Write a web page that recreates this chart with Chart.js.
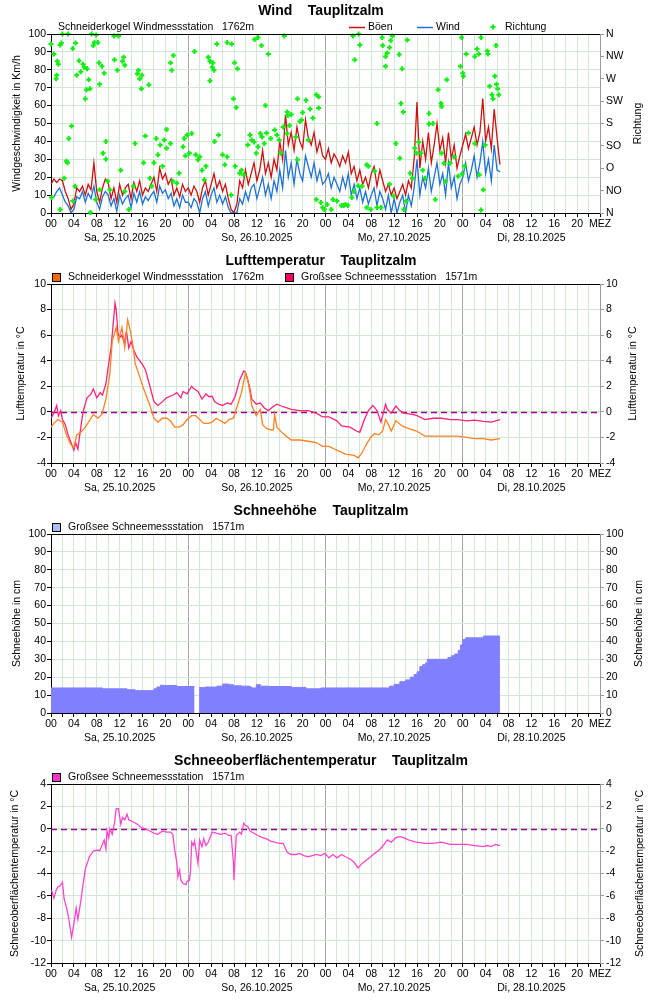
<!DOCTYPE html>
<html><head><meta charset="utf-8">
<script src="https://cdn.jsdelivr.net/npm/chart.js@4.4.1/dist/chart.umd.min.js"></script>
<style>
body{margin:0;background:#fff;width:650px;height:1000px;overflow:hidden;}
.panel{position:absolute;left:0;width:650px;height:250px;}
canvas{display:block;}
</style></head><body>
<div class="panel" style="top:0"><canvas id="c1" width="650" height="250"></canvas></div>
<div class="panel" style="top:250px"><canvas id="c2" width="650" height="250"></canvas></div>
<div class="panel" style="top:500px"><canvas id="c3" width="650" height="250"></canvas></div>
<div class="panel" style="top:750px"><canvas id="c4" width="650" height="250"></canvas></div>
<script>
// ---------------- DATA ----------------
const dayLabels = ['Sa, 25.10.2025','So, 26.10.2025','Mo, 27.10.2025','Di, 28.10.2025'];
const dirLabels = ['N','NO','O','SO','S','SW','W','NW','N'];

// wind: half-hourly from Sa 00:00
const windStartHour = 0, windStepHours = 0.5;
const gusts = [
 16,19,17,19,18,12,8,2,5,14, 12,15,10,16,13,28,12,6,14,19, 17,8,14,6,16,10,14,16,8,17, 12,18,10,14,12,16,20,12,25,19, 22,16,19,10,14,9,16,12,
 14,10,15,12,6,14,18,10,16,22, 14,18,12,16,8,2,0,5,18,14, 24,16,22,28,18,24,35,22,28,20, 30,24,40,30,55,38,45,35,48,40, 36,52,42,38,45,34,40,32,
 30,36,28,33,30,26,32,28,34,22, 26,18,24,16,20,14,22,26,15,24, 18,12,16,10,14,8,12,16,10,18, 14,30,62,25,40,30,45,28,38,50, 35,42,28,45,30,38,25,32,
 38,44,36,42,48,38,45,64,40,48, 36,58,42,27
];
const wind = [
 8,9,12,14,10,6,4,0,2,9, 8,12,6,11,8,15,6,2,9,12, 10,4,8,1,10,5,8,10,3,11, 6,12,5,9,7,10,12,6,15,11, 13,8,11,4,8,3,10,6,
 6,3,8,6,0,8,12,4,10,14, 6,10,5,9,3,0,0,0,8,5, 12,7,14,16,8,14,20,10,16,8, 18,12,24,14,35,20,28,16,30,22, 18,32,26,20,28,18,24,16,
 18,22,14,20,16,12,20,14,22,10, 16,8,14,6,12,5,10,14,4,12, 8,2,10,0,8,0,6,10,0,10, 4,14,30,10,20,14,25,12,20,28, 16,22,10,28,14,20,8,16,
 20,28,18,24,32,20,28,40,22,30, 18,38,24,23
];
const dirHours = [
 0,0.5,0.9,1.0,1.1,1.3,1.6,1.8,2,3,
 3.8,4.3,4.5,4.9,5.2,5.6,5.8,6,6.2,6.3,
 6.6,6.8,7.1,7.4,7.6,7.9,8.2,8.4,8.5,8.9,
 9.3,11,11.1,11.6,11.8,12.5,12.7,12.9,15.1,15.3,
 15.5,15.8,15.9,17.1,20.9,21.1,21.4,25.1,27.5,27.8,
 28.2,28.3,28.5,27.8,29,30.8,31.6,31.9,32.1,32.4,
 32.6,35.6,36.2,36.8,37.5,38,40.8,41.3,41.4,43.1,
 44.6,45.3,46.4,46.8,46.8,52.8,53.8,53.1,54,57.9,
 58,58.5,58.5,58.8,59.2,59.4,59.7,60.9,61.4,61.2,
 61.6,62.3,66.1,67.7,68.2,68.3,69.2,71.6,71.8,72,
 72.1,72.6,74.1,74.5,74.8,75.2,76.3,76.4,76.7,77.1,
 77.3,77.6,77.8,77.9,78.1,78.3,42,44,45.8,43.8,
 0.1,1.6,2.3,2.7,2.9,3.1,3.6,4.2,3.8,6.9,
 7.8,8.5,9.1,9.6,9.6,9.9,10.3,12.2,12.9,13.6,
 14.4,14.7,16.2,16.5,17.3,17.6,18,18.4,18.7,19.1,
 19.5,19.8,20.2,20.2,20.9,21.3,22,22.4,23.1,23.3,
 23.5,23.8,24.2,24.6,25.3,25.7,26,26.4,26.8,27.1,
 28.6,29.3,30,30.4,30.8,31.5,32.2,33,33.3,33.7,
 34.4,34.8,35.1,35.5,35.9,36.2,36.6,36.9,37.3,37.7,
 38.4,39.1,39.5,39.9,40.2,40.6,41.3,41.7,42.8,43.1,
 43.5,45,46.4,47.2,47.5,47.8,48.3,49,49.3,50,
 50.8,51.2,51.5,51.9,52.6,53,53.7,54.4,55.2,55.5,
 55.2,55.9,56.6,57,57,57.7,59.2,59.9,60.3,61,
 61.7,62.1,62.8,63.2,63.6,63.9,64.3,64.7,65,65.4,
 66.1,66.8,67.2,68.3,68.7,69,69.8,70.5,71.2,71.9,
 72.3,73,74.1,74.9,75.2,75.6,75.9
];
const dirDegrees = [
 340,320,270,277,305,299,338,342,360,360,
 331,342,277,306,284,299,293,230,248,290,
 268,250,360,337,343,358,343,302,259,295,
 281,356,308,287,356,305,313,297,280,287,
 270,250,277,258,302,287,317,325,313,305,
 293,302,287,266,340,343,340,230,302,212,
 290,349,353,337,216,320,356,203,196,230,
 227,209,238,234,211,356,360,308,338,353,
 337,295,315,322,333,347,356,319,290,220,
 203,348,200,248,220,214,268,295,353,281,
 275,320,315,330,320,353,326,320,255,238,
 230,275,337,259,250,238,198,202,191,187,
 31,7,70,104,101,150,175,54,24,1,
 27,47,120,108,144,64,47,86,43,7,
 54,140,101,155,70,54,101,150,117,137,
 94,147,168,130,140,64,60,80,133,150,
 115,157,120,160,117,107,113,86,67,94,
 144,157,117,97,113,36,94,80,86,77,
 137,157,147,143,120,133,160,153,140,161,
 150,167,157,147,120,173,160,176,153,107,
 184,147,27,21,11,7,17,7,27,24,
 15,15,17,15,31,43,55,54,97,94,
 11,7,84,11,180,11,58,34,140,110,
 7,24,80,70,130,120,143,120,86,70,
 179,180,27,120,100,64,100,113,74,79,
 94,161,140,77,6,47,137
];

// air temperature Schneiderkogel (hours since Sa 00:00, °C)
const tempSkHours = [
 0,0.5,1.2,2,2.7,3.4,4,4.5,5.2,6,
 6.7,7.4,8.2,8.9,9.6,10.3,10.7,11.4,11.8,12.4,
 12.9,13.4,13.8,14.4,14.7,15.1,16.2,17.3,18,18.7,
 19.5,20.2,20.9,21.6,22.4,23.1,23.8,24.6,25.3,26,
 26.7,27.5,28.2,28.9,29.7,30.4,31.1,31.9,32.6,33.3,
 34,34.4,34.8,35.1,35.9,36.6,37,37.7,38.4,38.9,
 39.1,39.5,40.6,42,43.5,45,46.4,47.5,48.6,50,
 51.5,53,53.7,54.4,55.2,55.9,56.6,57.3,58,58.5,
 58.8,59.5,60.3,61.4,62.5,63.9,65.4,66.8,68.3,69.8,
 71.2,72.7,74.1,75.6,77,78.5
];
const tempSkValues = [
 -1.2,-0.9,-0.6,-0.8,-1.8,-2.5,-2.8,-1.8,-1.6,-1.2,
 -0.7,-0.2,-0.5,-0.2,1.0,3.0,5.5,6.6,5.5,6.6,
 5.0,7.2,6.5,5.0,3.8,3.3,1.8,0.5,-0.5,-0.8,
 -0.5,-0.5,-0.7,-1.2,-1.2,-1.0,-0.6,-0.3,-0.3,-0.6,
 -0.9,-0.9,-0.8,-0.5,-0.7,-0.9,-0.6,-0.5,0.5,1.5,
 3.0,2.5,1.5,0.5,-0.3,0.2,-1.0,-1.3,-1.4,-1.4,
 -0.2,-1.2,-1.7,-2.2,-2.2,-2.3,-2.4,-2.7,-2.7,-3.0,
 -3.3,-3.4,-3.6,-3.2,-2.5,-2.0,-1.7,-1.8,-1.5,-0.6,
 -0.8,-1.5,-0.7,-1.1,-1.3,-1.5,-1.9,-1.9,-1.9,-1.9,
 -1.9,-2.0,-2.1,-2.1,-2.2,-2.1
];
// air temperature Großsee
const tempGsHours = [
 0,0.5,1,1.3,1.7,2,2.5,3,3.5,4,
 4.3,4.7,5,5.6,6.3,7,7.4,8,8.6,9,
 9.6,10.1,10.5,10.8,11.2,11.4,11.7,12,12.4,12.8,
 13.2,13.6,14,14.5,15,15.5,16,16.5,17.3,18,
 18.7,19.5,20.2,21.3,22,22.7,23.1,23.8,24.6,25,
 25.7,26.4,27.1,27.6,28.2,28.6,29.3,30,30.8,31.5,
 32.2,33,33.7,34,34.4,34.8,35.1,35.9,36.6,37.3,
 38,38.8,39.5,40.6,42,43.5,45,46.4,47.5,48.6,
 50,50.8,52.3,53.4,54,54.8,55.5,56.3,57,57.7,
 58.5,58.8,59.5,60.3,61,61.7,63.2,64,65.4,66.8,
 68.3,69.8,71.2,72.7,74.1,75.6,77,78.5
];
const tempGsValues = [
 -0.5,-0.1,0.5,-0.3,0.1,-0.6,-1.0,-1.8,-2.4,-3.0,
 -2.4,-2.9,-1.9,0,1.1,1.4,1.8,1.1,1.5,1.3,
 2.2,3.8,5.0,6.5,8.5,8.0,6.2,5.8,6.0,5.4,
 6.3,5.0,5.5,4.8,4.3,4.0,3.7,3.3,2.0,0.8,
 0.5,0.8,1.1,1.3,1.5,1.1,1.6,1.4,2.0,1.8,
 1.6,1.0,1.4,1.2,1.2,0.8,0.6,0.5,0.7,0.6,
 1.2,2.5,3.2,3.1,2.5,1.8,1.0,0.6,0.7,0.3,
 0.1,0.4,0.6,0.4,0.2,0.1,0.1,-0.1,-0.4,-0.4,
 -0.7,-1.1,-1.2,-1.5,-1.6,-0.6,0.1,0.5,0.1,-0.8,
 0.6,0.2,-0.1,0.45,0.1,-0.1,-0.2,-0.3,-0.6,-0.5,
 -0.5,-0.6,-0.6,-0.7,-0.65,-0.75,-0.8,-0.6
];
// snow depth Großsee (cm), value holds from the given hour on
const snowHours = [
 0,9,13.3,14.7,18,18.5,19.1,19.8,22,25.1,
 25.2,25.9,27,29,30,31.1,31.9,33.3,34.8,35.1,
 35.9,36.6,38,42,44.6,47.2,59.2,60,61,62,
 62.8,63.5,64,64.5,65,65.5,65.8,69.4,70,70.6,
 71.2,71.6,72,72.5,75.6,78.5
];
const snowDepth = [
 14,13.5,13,12.5,13.5,14.5,15.5,15.3,14.8,14.8,
 null,14.2,14.5,15,16.2,15.8,15.2,15,14.5,14,
 15.8,15,14.8,14.3,13.5,14,15,16,17.5,18.5,
 20,21.5,23,26,27,28,30,31,32,33,
 35,38,41,42,43,43
];
// snow surface temperature Großsee
const surfHours = [
 0.1,0.5,0.9,1.2,1.6,2,2.3,2.7,3.1,3.6,
 4,4.4,4.7,5.2,5.6,6,6.7,7.4,8.2,8.5,
 8.9,9.3,9.6,9.8,10.1,10.3,10.7,11.1,11.4,11.8,
 12.2,12.5,12.9,13.3,13.6,14.4,15.1,15.8,16.5,17.3,
 18,18.7,19.5,20.2,20.9,21.3,21.6,22,22.2,22.5,
 22.7,23.1,23.6,23.8,24.2,24.4,24.6,24.9,25.1,25.7,
 26,26.4,26.7,27.1,27.5,27.8,28.2,28.9,29.7,30.4,
 31.1,31.5,31.9,32,32.2,32.4,33,33.3,33.7,34,
 34.4,34.8,35.5,36.2,37,37.7,38.4,39.1,39.9,40.6,
 41.3,42,42.8,43.5,44.2,45,45.7,46.4,47.2,47.9,
 48.6,49.3,50,50.8,51.5,52.3,53,53.7,54.4,55.2,
 55.9,56.6,57.4,58.1,58.8,59.5,60.3,61,61.7,62.5,
 63.2,63.9,65.4,66.8,68.3,69.8,71.2,72.7,74.1,75.6,
 76.3,77,77.7,78.5
];
const surfTemp = [
 -5.5,-6.2,-5.5,-5.2,-5.1,-4.8,-6.3,-7.0,-8.0,-9.7,
 -8.5,-7.1,-8.1,-6.5,-5.0,-3.6,-2.5,-2.0,-1.9,-2.0,
 -1.5,-1.0,-1.8,-0.2,-0.8,0,-0.5,0.5,1.8,1.8,
 0.4,1.0,0.8,1.3,0.8,0.6,0.4,0.1,0,-0.2,
 -0.4,-0.5,-0.2,-0.3,-0.3,-0.5,-1.8,-3.0,-4.3,-3.7,
 -4.6,-4.9,-5.0,-4.7,-4.6,-3.8,-1.2,-1.5,-1.1,-3.1,
 -1.0,-1.6,-0.9,-1.5,-1.2,-0.8,-0.3,-0.4,-0.5,-0.4,
 -0.6,-0.6,-3.0,-4.6,-2.5,-0.6,-0.3,-0.5,0.5,0.3,
 0.2,-0.2,-0.4,-0.6,-0.8,-0.9,-1.1,-1.2,-1.3,-1.3,
 -2.1,-2.3,-2.3,-2.2,-2.4,-2.5,-2.4,-2.3,-2.4,-2.2,
 -2.6,-2.3,-2.6,-2.3,-2.5,-2.7,-3.0,-3.5,-3.1,-2.8,
 -2.5,-2.2,-1.9,-1.5,-1.0,-1.2,-0.8,-0.7,-0.8,-1.0,
 -1.1,-1.2,-1.3,-1.3,-1.2,-1.4,-1.4,-1.4,-1.5,-1.6,
 -1.5,-1.6,-1.4,-1.5
];

// ---------------- STYLE / HELPERS ----------------
const FF = "'Liberation Sans', Arial, sans-serif";
const FS = 10.5;
const GRID = '#d3e8d3';
Chart.defaults.font.family = FF;
Chart.defaults.font.size = FS;
Chart.defaults.color = '#000';
Chart.defaults.animation = false;

const pts = (xs, ys) => xs.map((x, i) => ({x: x, y: ys[i]}));
const stepPts = (arr) => arr.map((v, i) => ({x: windStartHour + i * windStepHours, y: v}));

function xAxis() {
  return {
    type: 'linear', position: 'bottom', min: 0, max: 96,
    afterBuildTicks(s) { const t = []; for (let h = 0; h <= 96; h += 2) t.push({value: h}); s.ticks = t; },
    afterFit(s) { s.height = 37; },
    ticks: {
      autoSkip: false, maxRotation: 0, minRotation: 0, padding: 1, color: '#000',
      font: {family: FF, size: FS, lineHeight: 1.25},
      callback: (v) => {
        if (v === 96) return 'MEZ';
        if (v % 4 !== 0) return '';
        const l = String(v % 24).padStart(2, '0');
        return (v % 24 === 12) ? [l, dayLabels[Math.floor(v / 24)]] : l;
      }
    },
    grid: {
      color: (c) => (c.tick && c.tick.value % 24 === 0) ? '#a6a6a6' : GRID,
      tickColor: '#000', tickLength: 4, lineWidth: 1
    },
    border: {color: '#000', width: 1}
  };
}
function yLeft(min, max, step) {
  return {
    type: 'linear', position: 'left', min: min, max: max,
    afterBuildTicks(s) { const t = []; for (let v = min; v <= max + 1e-9; v += step) t.push({value: v}); s.ticks = t; },
    afterFit(s) { s.width = 51; },
    ticks: {padding: 1, color: '#000', font: {family: FF, size: FS}},
    grid: {color: GRID, tickColor: '#000', tickLength: 4},
    border: {color: '#000'}
  };
}
function yRight(min, max, step, cb) {
  const o = {
    type: 'linear', position: 'right', min: min, max: max,
    afterBuildTicks(s) { const t = []; for (let v = min; v <= max + 1e-9; v += step) t.push({value: v}); s.ticks = t; },
    afterFit(s) { s.width = 50; },
    ticks: {padding: 2, color: '#000', font: {family: FF, size: FS}},
    grid: {drawOnChartArea: false, tickColor: '#999', tickLength: 4},
    border: {color: '#9a9a9a'}
  };
  if (cb) o.ticks.callback = cb;
  return o;
}

const decor = {
  id: 'decor',
  beforeDatasetsDraw(chart, args, o) {
    if (!o.zeroLine) return;
    const ctx = chart.ctx, a = chart.chartArea;
    const y = Math.round(chart.scales.y.getPixelForValue(0)) + 0.5;
    ctx.save();
    ctx.strokeStyle = '#990099'; ctx.lineWidth = 1.3; ctx.setLineDash([6, 4]);
    ctx.beginPath(); ctx.moveTo(a.left, y); ctx.lineTo(a.right, y); ctx.stroke();
    ctx.restore();
  },
  afterDraw(chart, args, o) {
    const ctx = chart.ctx, a = chart.chartArea;
    ctx.save();
    ctx.strokeStyle = '#000'; ctx.lineWidth = 1;
    ctx.beginPath(); ctx.moveTo(a.left, a.top + 0.5); ctx.lineTo(a.right, a.top + 0.5); ctx.stroke();
    ctx.fillStyle = '#000';
    ctx.font = "bold 14px 'Liberation Sans', Arial, sans-serif";
    ctx.textAlign = 'center'; ctx.textBaseline = 'middle';
    ctx.fillText(o.title, 321, 11);
    ctx.font = FS + 'px ' + FF;
    const cy = (a.top + a.bottom) / 2;
    [[o.leftTitle, o.leftX], [o.rightTitle, o.rightX]].forEach(([t, x]) => {
      ctx.save(); ctx.translate(x, cy); ctx.rotate(-Math.PI / 2);
      ctx.textAlign = 'center'; ctx.textBaseline = 'middle'; ctx.fillText(t, 0, 0); ctx.restore();
    });
    ctx.textAlign = 'left'; ctx.textBaseline = 'middle';
    const ly = 27;
    (o.legend || []).forEach(it => {
      let tx = it.x;
      if (it.type === 'line') {
        ctx.strokeStyle = it.color; ctx.lineWidth = 1.5;
        ctx.beginPath(); ctx.moveTo(it.x, ly + 0.5); ctx.lineTo(it.x + 16, ly + 0.5); ctx.stroke();
        tx = it.x + 19;
      } else if (it.type === 'cross') {
        ctx.strokeStyle = it.color; ctx.lineWidth = 2;
        ctx.beginPath(); ctx.moveTo(it.x - 2.5, ly); ctx.lineTo(it.x + 2.5, ly);
        ctx.moveTo(it.x, ly - 2.5); ctx.lineTo(it.x, ly + 2.5); ctx.stroke();
        tx = it.x + 12;
      } else if (it.type === 'box') {
        ctx.fillStyle = it.color; ctx.fillRect(it.x, ly - 4, 8, 8);
        ctx.strokeStyle = '#000'; ctx.lineWidth = 1; ctx.strokeRect(it.x + 0.5, ly - 3.5, 8, 8);
        tx = it.x + 16;
      }
      ctx.fillStyle = '#000';
      ctx.fillText(it.text, tx, ly);
    });
    ctx.restore();
  }
};
Chart.register(decor);

const baseOpts = (scales, decorOpts) => ({
  responsive: false, maintainAspectRatio: false, animation: false,
  layout: {padding: {top: 34, left: 0, right: 0, bottom: 0}},
  plugins: {legend: {display: false}, title: {display: false}, tooltip: {enabled: false}, decor: decorOpts},
  scales: scales,
  elements: {point: {radius: 0}, line: {tension: 0}}
});
const STATION_SK = 'Schneiderkogel Windmessstation   1762m';
const STATION_GS = 'Großsee Schneemessstation   1571m';

// ---------------- CHART 1: WIND ----------------
new Chart(document.getElementById('c1'), {
  type: 'line',
  data: {datasets: [
    {label: 'Richtung', type: 'scatter', yAxisID: 'y2', data: pts(dirHours, dirDegrees), showLine: false,
     pointStyle: 'cross', pointRadius: 2.5, borderColor: '#11ee11', backgroundColor: '#11ee11', pointBorderWidth: 2, order: 0, clip: 6},
    {label: 'Wind', data: stepPts(wind), borderColor: '#1f72d4', borderWidth: 1.3, pointRadius: 0, order: 1},
    {label: 'Böen', data: stepPts(gusts), borderColor: '#cc1111', borderWidth: 1.3, pointRadius: 0, order: 2}
  ]},
  options: baseOpts({
    x: xAxis(), y: yLeft(0, 100, 10),
    y2: yRight(0, 360, 45, (v) => dirLabels[Math.round(v / 45)])
  }, {
    title: 'Wind    Tauplitzalm', leftTitle: 'Windgeschwindigkeit in Km/h', leftX: 17,
    rightTitle: 'Richtung', rightX: 638,
    legend: [
      {type: 'text', x: 58, text: STATION_SK},
      {type: 'line', x: 349, color: '#cc1111', text: 'Böen'},
      {type: 'line', x: 417, color: '#1f72d4', text: 'Wind'},
      {type: 'cross', x: 493, color: '#11ee11', text: 'Richtung'}
    ]
  })
});

// ---------------- CHART 2: AIR TEMPERATURE ----------------
new Chart(document.getElementById('c2'), {
  type: 'line',
  data: {datasets: [
    {label: 'Großsee', data: pts(tempGsHours, tempGsValues), borderColor: '#ff2277', borderWidth: 1.3, pointRadius: 0, order: 1},
    {label: 'Schneiderkogel', data: pts(tempSkHours, tempSkValues), borderColor: '#ff8122', borderWidth: 1.3, pointRadius: 0, order: 0}
  ]},
  options: baseOpts({x: xAxis(), y: yLeft(-4, 10, 2), y2: yRight(-4, 10, 2)}, {
    title: 'Lufttemperatur    Tauplitzalm', leftTitle: 'Lufttemperatur in °C', leftX: 21,
    rightTitle: 'Lufttemperatur in °C', rightX: 633, zeroLine: true,
    legend: [
      {type: 'box', x: 52, color: '#ff6a00', text: STATION_SK},
      {type: 'box', x: 285, color: '#ff0066', text: STATION_GS}
    ]
  })
});

// ---------------- CHART 3: SNOW DEPTH ----------------
new Chart(document.getElementById('c3'), {
  type: 'line',
  data: {datasets: [
    {label: 'Schneehöhe', data: pts(snowHours, snowDepth), stepped: 'before', fill: 'origin', spanGaps: false,
     borderColor: '#8080ff', backgroundColor: '#8080ff', borderWidth: 1, pointRadius: 0}
  ]},
  options: baseOpts({x: xAxis(), y: yLeft(0, 100, 10), y2: yRight(0, 100, 10)}, {
    title: 'Schneehöhe    Tauplitzalm', leftTitle: 'Schneehöhe in cm', leftX: 17,
    rightTitle: 'Schneehöhe in cm', rightX: 639,
    legend: [{type: 'box', x: 52, color: '#a8bef5', text: STATION_GS}]
  })
});

// ---------------- CHART 4: SNOW SURFACE TEMPERATURE ----------------
new Chart(document.getElementById('c4'), {
  type: 'line',
  data: {datasets: [
    {label: 'Schneeoberfläche', data: pts(surfHours, surfTemp), borderColor: '#ff44cc', borderWidth: 1.3, pointRadius: 0}
  ]},
  options: baseOpts({x: xAxis(), y: yLeft(-12, 4, 2), y2: yRight(-12, 4, 2)}, {
    title: 'Schneeoberflächentemperatur    Tauplitzalm', leftTitle: 'Schneeoberflächentemperatur in °C', leftX: 15,
    rightTitle: 'Schneeoberflächentemperatur in °C', rightX: 640, zeroLine: true,
    legend: [{type: 'box', x: 52, color: '#ff33cc', text: STATION_GS}]
  })
});
</script>
</body></html>
